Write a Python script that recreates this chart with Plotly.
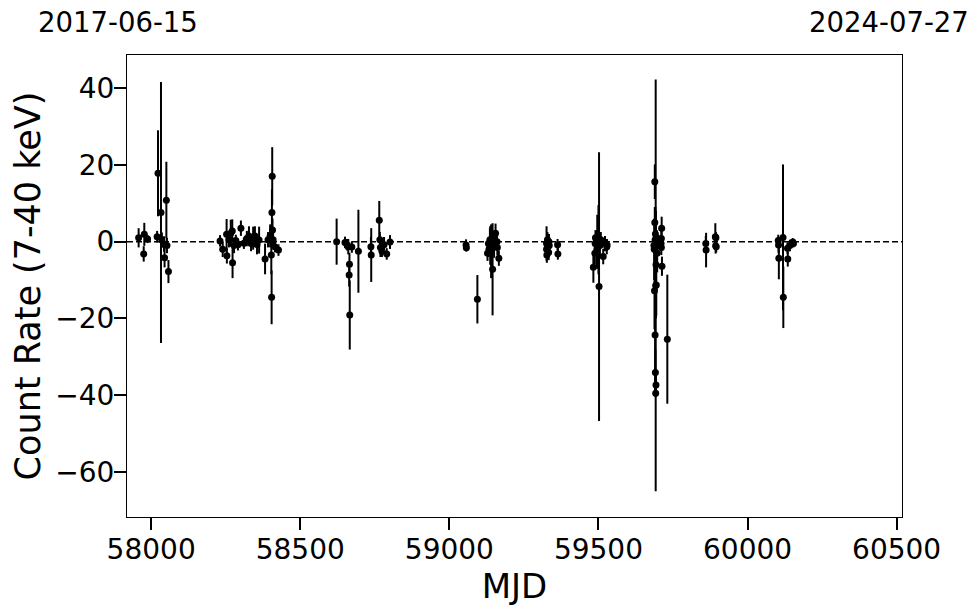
import plotly.graph_objects as go

# ---- data ----
mjd = [
    57958, 57977, 57975, 57988, 58020, 58023, 58033, 58036, 58043, 58045, 58051, 58053, 58058,
    58231, 58240, 58253, 58254, 58261, 58267, 58272, 58273, 58278, 58284, 58291, 58301, 58311,
    58321, 58328, 58335, 58342, 58348, 58355, 58362, 58382, 58392, 58399, 58403, 58404, 58405,
    58406, 58407, 58409, 58415, 58427,
    58622, 58650, 58657, 58661, 58664, 58665, 58666, 58673, 58695, 58737, 58738, 58765, 58767,
    58769, 58774, 58781, 58790, 58801,
    59056, 59057, 59094, 59128, 59131, 59133, 59136, 59137, 59140, 59145, 59150, 59155, 59160,
    59161, 59166,
    59326, 59326, 59327, 59329, 59330, 59333, 59334, 59335, 59363, 59364,
    59483, 59488, 59489, 59490, 59495, 59496, 59500, 59502, 59505, 59508, 59516, 59522, 59528,
    59529,
    59686, 59687, 59688, 59689, 59689, 59690, 59690, 59691, 59691, 59692, 59692, 59693, 59693,
    59694, 59696, 59697, 59710, 59711, 59711, 59712, 59713, 59731,
    59860, 59861, 59892, 59893, 59894, 59895,
    60103, 60104, 60105, 60119, 60120, 60134, 60135, 60142, 60152, 60154,
]
rate = [
    1.0, 1.9, -3.2, 0.7, 1.3, 17.8, 7.6, 0.4, -0.6, -4.2, 10.8, -1.0, -7.8,
    0.2, -2.0, 1.9, -3.7, 0.5, 2.2, 2.8, -5.5, -1.0, 0.3, -0.8, 3.5, -0.4,
    0.8, 1.5, -0.5, 0.9, 1.5, -0.8, 0.4, -4.5, 0.5, 1.5, -3.5, -14.5, 7.6,
    17.0, 3.0, 0.5, -1.3, -2.2,
    0.0, -0.2, -0.8, -1.3, -8.7, -5.9, -19.1, -1.4, -2.5, -1.3, -3.5, 5.6, 0.5,
    -1.5, -2.5, -0.8, -3.2, -0.1,
    -0.9, -1.6, -15.0, -3.0, -0.5, -2.0, 0.5, -1.0, -2.5, -7.2, -1.2, 2.2, 0.0,
    -1.5, -4.3,
    -0.5, -2.0, -3.5, 0.5, -1.5, -2.8, 0.0, -1.0, -0.8, -3.2,
    -6.7, -3.0, -0.5, 1.0, -2.0, 0.0, 0.5, -11.7, -1.0, 0.5, -3.9, -0.5, -1.3,
    -0.9,
    -1.0, -2.0, -12.8, 15.6, 5.0, -24.3, 0.5, -34.1, 2.0, -11.4, -39.5, -37.3, -6.0,
    -11.3, 1.0, -3.0, -0.5, 0.8, -1.5, 3.5, -6.4, -25.4,
    -0.5, -2.2, 1.3, -1.1, 1.0, -1.3,
    0.3, -0.9, -4.3, 1.1, -14.5, -1.7, -4.5, -1.0, -0.1, -0.5,
]
err = [
    2.5, 3.0, 2.0, 1.0, 1.5, 11.2, 34.0, 2.0, 2.0, 2.5, 10.0, 2.0, 3.0,
    1.5, 2.0, 4.0, 2.0, 2.0, 3.5, 3.0, 4.0, 2.0, 1.5, 1.5, 2.0, 1.5,
    2.0, 2.5, 2.0, 3.0, 2.5, 2.5, 3.5, 4.0, 2.0, 3.0, 5.0, 7.0, 6.0,
    7.6, 3.0, 2.0, 1.5, 1.5,
    6.0, 1.5, 1.5, 2.0, 3.0, 3.0, 9.0, 1.5, 10.8, 2.5, 7.0, 5.0, 2.0,
    2.5, 1.5, 2.0, 1.5, 1.8,
    1.5, 1.0, 6.3, 2.0, 1.5, 2.0, 3.0, 5.0, 7.0, 12.0, 3.0, 2.5, 2.0,
    2.0, 2.0,
    4.5, 2.0, 2.0, 2.0, 2.5, 2.0, 2.0, 1.5, 1.5, 1.5,
    4.0, 3.0, 2.0, 2.0, 5.0, 7.0, 9.0, 35.0, 3.0, 2.0, 2.0, 2.0, 2.0,
    1.5,
    2.0, 8.0, 10.0, 4.5, 4.0, 16.0, 3.0, 6.0, 7.0, 53.6, 1.0, 3.0, 14.0,
    8.0, 2.0, 5.0, 2.0, 2.0, 2.0, 3.0, 2.5, 16.8,
    2.0, 4.5, 3.5, 2.0, 1.5, 1.5,
    1.5, 2.0, 5.5, 19.0, 8.0, 1.5, 2.0, 1.5, 1.0, 1.0,
]

x_range = [57919, 60518]
y_range = [-71.7, 48.6]
x_ticks = [58000, 58500, 59000, 59500, 60000, 60500]
x_tick_text = ["58000", "58500", "59000", "59500", "60000", "60500"]
y_ticks = [40, 20, 0, -20, -40, -60]
y_tick_text = ["40", "20", "0", "\u221220", "\u221240", "\u221260"]
start_label = "2017-06-15"
end_label = "2024-07-27"

FONT = "DejaVu Sans"

fig = go.Figure()

fig.add_trace(go.Scatter(
    x=x_range, y=[0, 0], mode="lines",
    line=dict(color="black", width=1.5, dash="6px,3px"),
    hoverinfo="skip", showlegend=False,
))

fig.add_trace(go.Scatter(
    x=mjd, y=rate, mode="markers",
    marker=dict(color="black", size=7, symbol="circle"),
    error_y=dict(type="data", array=err, visible=True, color="black",
                 thickness=2, width=0),
    showlegend=False,
))

fig.update_layout(
    width=980, height=613,
    margin=dict(l=127, r=78, t=55, b=96, autoexpand=False),
    paper_bgcolor="white", plot_bgcolor="white",
    font=dict(family=FONT, color="black"),
    xaxis=dict(
        range=x_range, tickmode="array", tickvals=x_ticks, ticktext=x_tick_text,
        ticks="outside", ticklen=12, tickwidth=2, tickcolor="black",
        tickfont=dict(size=28), showgrid=False, zeroline=False, automargin=False,
        ticklabelstandoff=-5,
        showline=True, linecolor="black", linewidth=1, mirror=True,
        title=dict(text="MJD", font=dict(size=34), standoff=2),
    ),
    yaxis=dict(
        range=y_range, tickmode="array", tickvals=y_ticks, ticktext=y_tick_text,
        ticks="outside", ticklen=12, tickwidth=2, tickcolor="black",
        tickfont=dict(size=28), showgrid=False, zeroline=False, automargin=False,
        ticklabelstandoff=-6,
        showline=True, linecolor="black", linewidth=1, mirror=True,
        title=dict(text="Count Rate (7-40 keV)", font=dict(size=35), standoff=4),
    ),
    annotations=[
        dict(text=start_label, x=-0.0116, y=1.071, xref="paper", yref="paper",
             showarrow=False, font=dict(size=27.5, family=FONT), xanchor="center",
             yanchor="middle"),
        dict(text=end_label, x=0.983, y=1.071, xref="paper", yref="paper",
             showarrow=False, font=dict(size=27.5, family=FONT), xanchor="center",
             yanchor="middle"),
    ],
)

fig.write_html("out.html", config={"displayModeBar": False},
               post_script="document.body.style.margin='0px';")
